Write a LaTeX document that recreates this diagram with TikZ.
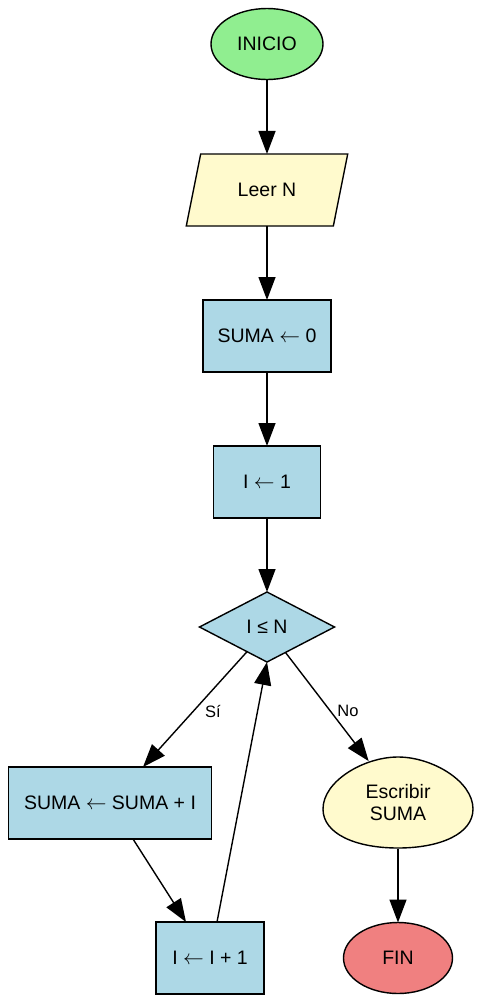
\documentclass[tikz,border=0pt]{standalone}
\usepackage{fontspec}
\setmainfont{Liberation Sans}
\usepackage{tikz}
\usetikzlibrary{arrows.meta,shapes,calc,positioning}
\definecolor{verdeClaro}{RGB}{144,238,144}
\definecolor{amarilloClaro}{RGB}{255,250,205}
\definecolor{azulClaro}{RGB}{173,216,230}
\definecolor{rojoClaro}{RGB}{240,128,128}
\tikzstyle{flecha}  =[-{Triangle[length=23pt,width=17pt]}, line width=1.4pt]
\tikzstyle{texto}   =[font=\fontsize{19.5}{22}\selectfont, inner sep=0pt,
                      outer sep=0pt, line width=1.4pt]
\tikzstyle{caja}    =[texto, rectangle, draw, fill=azulClaro,
                      minimum height=72pt]
\tikzstyle{terminal}=[texto, ellipse, draw, minimum width=112pt,
                      minimum height=71pt]
\tikzstyle{entrada} =[texto, trapezium, trapezium left angle=65,
                      trapezium right angle=115, trapezium stretches=true,
                      draw, fill=amarilloClaro, minimum width=162pt,
                      minimum height=72pt]
\tikzstyle{decision}=[texto, diamond, draw, fill=azulClaro, aspect=1.9,
                      minimum width=135pt, minimum height=70pt]
\tikzstyle{etiqueta}=[font=\fontsize{16.5}{19}\selectfont, inner sep=0pt]

\begin{document}
\begin{tikzpicture}[x=1pt,y=-1pt]
    \useasboundingbox (0,0) rectangle (480,1002);

    \draw (267,44) node (inicio) [terminal,fill=verdeClaro] {INICIO};
    \draw (267,190) node (leer) [entrada] {Leer N};
    \draw (267,336) node (suma0) [caja,minimum width=128pt] {SUMA $\leftarrow$ 0};
    \draw (267,482) node (i1) [caja,minimum width=107pt] {I $\leftarrow$ 1};
    \draw (267,627) node (cond) [decision] {I ≤ N};
    \draw (110,803) node (sumai) [caja,minimum width=203pt] {SUMA $\leftarrow$ SUMA + I};
    \draw (210,958) node (inc) [caja,minimum width=108pt] {I $\leftarrow$ I + 1};

    % salida con forma de huevo
    \coordinate (escc) at (398,803);
    \draw [line width=1.4pt,fill=amarilloClaro]
        ($(escc)+(0,-46)$) .. controls ($(escc)+(34,-46)$) and ($(escc)+(75,-22)$) ..
        ($(escc)+(75,6)$) .. controls ($(escc)+(75,31)$) and ($(escc)+(42,45)$) ..
        ($(escc)+(0,45)$) .. controls ($(escc)+(-42,45)$) and ($(escc)+(-75,31)$) ..
        ($(escc)+(-75,6)$) .. controls ($(escc)+(-75,-22)$) and ($(escc)+(-34,-46)$) ..
        ($(escc)+(0,-46)$);
    \draw (escc) node (esc) [texto,ellipse,align=center,minimum width=150pt,
        minimum height=91pt] {Escribir\\SUMA};
    \draw (398,958) node (fin) [terminal,fill=rojoClaro,minimum width=109pt] {FIN};

    \foreach \i/\j in {inicio/leer,leer/suma0,suma0/i1,i1/cond,esc/fin}
        \draw [flecha] (\i) to (\j);
    \draw [flecha] (cond.231) to ([xshift=33pt]sumai.north);
    \draw [flecha] (cond.-54) to (esc.125);
    \draw [flecha] ([xshift=23pt]sumai.south) to ([xshift=-24pt]inc.north);
    \draw [flecha] ([xshift=7pt]inc.north) to (cond.south);

    \node (si) [etiqueta] at (213,711) {Sí};
    \node (no) [etiqueta] at (348,711) {No};
\end{tikzpicture}
\end{document}
